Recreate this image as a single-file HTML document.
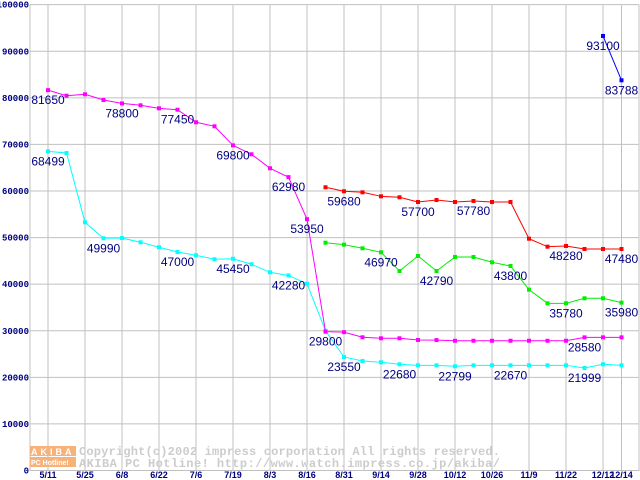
<!DOCTYPE html>
<html><head><meta charset="utf-8"><style>
body{margin:0;background:#fff}
svg{display:block}
.yt{font:bold 9px "Liberation Mono",monospace;fill:#000080}
.xt{font:bold 9px "Liberation Sans",sans-serif;fill:#000080}
.lb{font:12px "Liberation Sans",sans-serif;fill:#000080}
.wm{font:bold 12px "Liberation Mono",monospace;fill:#cccccc}
</style></head><body>
<svg id="chart" width="640" height="480" xmlns="http://www.w3.org/2000/svg">
<g id="grid"></g>
<g id="wm">
<rect x="30" y="446" width="46" height="10" fill="#f7b27a"/>
<rect x="30" y="457" width="46" height="10" fill="#f7b27a"/>
<text x="31" y="455" style="font:bold 9px 'Liberation Sans',sans-serif;fill:#fff;letter-spacing:3px">AKIBA</text>
<text x="31" y="465" style="font:bold 7px 'Liberation Sans',sans-serif;fill:#fff">PC Hotline!</text>
<text class="wm" x="79" y="455" textLength="421" lengthAdjust="spacing">Copyright(c)2002 impress corporation All rights reserved.</text>
<text class="wm" x="79" y="467" textLength="421" lengthAdjust="spacing">AKIBA PC Hotline!  http://www.watch.impress.co.jp/akiba/</text>
</g>
<g id="series"></g>
<g id="labels"></g>
</svg>
<script>
const xLabels=["5/11","5/25","6/8","6/22","7/6","7/19","8/3","8/16","8/31","9/14","9/28","10/12","10/26","11/9","11/22","12/12","12/14"];
const xLabelIdx=[0,2,4,6,8,10,12,14,16,18,20,22,24,26,28,30,31];
const yTicks=[0,10000,20000,30000,40000,50000,60000,70000,80000,90000,100000];
const magenta=[81650,80460,80760,79540,78800,78400,77750,77450,74750,73890,69800,67880,64880,62980,53950,29800,29700,28600,28380,28380,28020,28000,27850,27850,27850,27850,27850,27850,27850,28580,28580,28580];
const cyan=[68499,68160,53280,49850,49900,48990,47920,46900,46200,45340,45450,44270,42550,41870,40100,30000,24370,23500,23230,22800,22580,22580,22370,22580,22580,22580,22580,22580,22580,22000,22800,22580];
const red=[null,null,null,null,null,null,null,null,null,null,null,null,null,null,null,60800,59940,59720,58860,58650,57640,58070,57640,57860,57640,57640,49760,48050,48200,47550,47550,47550];
const green=[null,null,null,null,null,null,null,null,null,null,null,null,null,null,null,48900,48480,47700,46840,42830,46050,42830,45840,45840,44700,43900,38820,35890,35890,36970,36970,36030];
const blue=[null,null,null,null,null,null,null,null,null,null,null,null,null,null,null,null,null,null,null,null,null,null,null,null,null,null,null,null,null,null,93280,83770];
const magentaLabels=[[0,"81650"],[4,"78800"],[7,"77450"],[10,"69800"],[13,"62980"],[14,"53950"],[15,"29800"],[29,"28580"]];
const cyanLabels=[[0,"68499"],[3,"49990"],[7,"47000"],[10,"45450"],[13,"42280"],[16,"23550"],[19,"22680"],[22,"22799"],[25,"22670"],[29,"21999"]];
const redLabels=[[16,"59680"],[20,"57700"],[23,"57780"],[28,"48280"],[31,"47480"]];
const greenLabels=[[18,"46970"],[21,"42790"],[25,"43800"],[28,"35780"],[31,"35980"]];
const blueLabels=[[30,"93100"],[31,"83788"]];

const NS="http://www.w3.org/2000/svg";
const X=i=>48+18.5*i;
const Y=v=>470.5-v*0.0046583;
function mk(tag,attrs,parent){const e=document.createElementNS(NS,tag);for(const k in attrs)e.setAttribute(k,attrs[k]);parent.appendChild(e);return e;}
const grid=document.getElementById('grid');
yTicks.forEach(v=>{
  const l=mk('line',{x1:30,x2:639,y1:Y(v),y2:Y(v),stroke:'#c0c0c0','stroke-width':1},grid);
  
  
  const t=mk('text',{x:29,y:Y(v)+3,'text-anchor':'end',class:'yt'},grid);
  t.textContent=v;
  
  
});
xLabelIdx.forEach((i,k)=>{
  const l=mk('line',{x1:X(i),x2:X(i),y1:Y(100000),y2:470,stroke:'#c0c0c0','stroke-width':1},grid);
  
  
  const t=mk('text',{x:X(i),y:478,'text-anchor':'middle',class:'xt'},grid);
  t.textContent=xLabels[k];
  
  
});
const ax=mk('line',{x1:30,x2:30,y1:Y(100000),y2:471,stroke:'#c0c0c0'},grid);


const rb=mk('line',{x1:639,x2:639,y1:Y(100000),y2:471,stroke:'#c0c0c0'},grid);


const sg=document.getElementById('series'), lg=document.getElementById('labels');
function draw(data,color,name,labels){
  const pts=[];data.forEach((v,i)=>{if(v!==null)pts.push([X(i),Y(v)]);});
  const p=mk('polyline',{points:pts.map(p=>p.join(',')).join(' '),fill:'none',stroke:color,'stroke-width':1},sg);
  
  
  pts.forEach(q=>{
    const r=mk('rect',{x:q[0]-2,y:q[1]-2,width:4,height:4,fill:color},sg);
    
    
  });
  labels.forEach(([i,txt])=>{
    const t=mk('text',{x:X(i),y:Y(data[i])+14,'text-anchor':'middle',class:'lb'},lg);
    t.textContent=txt;
    
    
  });
}
draw(cyan,'#00ffff','cyan-series',cyanLabels);
draw(magenta,'#ff00ff','magenta-series',magentaLabels);
draw(green,'#00ee00','green-series',greenLabels);
draw(red,'#ff0000','red-series',redLabels);
draw(blue,'#0000ff','blue-series',blueLabels);
</script>
</body></html>
